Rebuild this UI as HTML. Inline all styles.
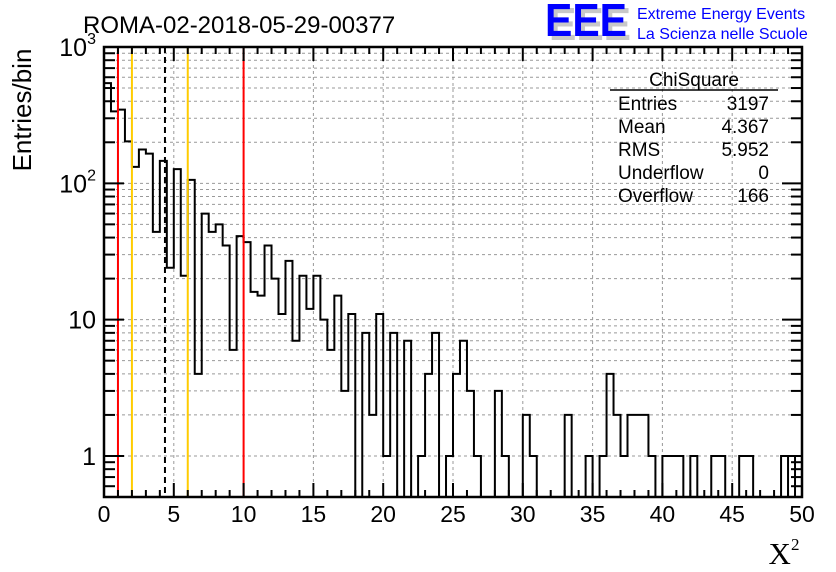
<!DOCTYPE html>
<html><head><meta charset="utf-8"><style>
html,body{margin:0;padding:0;background:#fff;}
svg{display:block;font-family:"Liberation Sans",sans-serif;}
</style></head><body>
<svg id="chart" width="836" height="572" viewBox="0 0 836 572" xmlns="http://www.w3.org/2000/svg">
<text x="83" y="33" font-size="24">ROMA-02-2018-05-29-00377</text>
<g>
<text x="549" y="40" font-size="46" font-weight="bold" fill="#c8c8c8" textLength="82" lengthAdjust="spacingAndGlyphs">EEE</text>
<text x="545" y="36" font-size="46" font-weight="bold" fill="#0000ff" textLength="82" lengthAdjust="spacingAndGlyphs">EEE</text>
<text x="637" y="19" font-size="16" fill="#0000ff">Extreme Energy Events</text>
<text x="637" y="39" font-size="16" fill="#0000ff">La Scienza nelle Scuole</text>
</g>
<text transform="translate(31,110) rotate(-90)" text-anchor="middle" font-size="26">Entries/bin</text>
<text x="784" y="564" text-anchor="middle" font-size="31" font-family="Liberation Serif,serif">X<tspan font-size="17" dy="-14">2</tspan></text>
<g id="grid"></g><g id="marks"></g><g id="axes"></g>
<g font-size="19">
<text x="694" y="86" text-anchor="middle">ChiSquare</text>
<line x1="610" y1="90" x2="778" y2="90" stroke="#000" stroke-width="1.5"/>
<text x="618" y="110">Entries</text><text x="769" y="110" text-anchor="end">3197</text>
<text x="618" y="133">Mean</text><text x="769" y="133" text-anchor="end">4.367</text>
<text x="618" y="156">RMS</text><text x="769" y="156" text-anchor="end">5.952</text>
<text x="618" y="179">Underflow</text><text x="769" y="179" text-anchor="end">0</text>
<text x="618" y="202">Overflow</text><text x="769" y="202" text-anchor="end">166</text>
</g>
</svg>
<script>
const binCounts = [543,337,347,203,132,177,165,44,146,24,127,21,106,4,60,44,50,35,6,41,37,16,15,35,20,11,27,7,21,12,21,10,6,15,3,11,0,8,2,11,1,8,0,7,0,1,4,8,0,1,4,7,3,1,0,0,3,1,0,0,2,1,0,0,0,0,2,0,0,1,0,1,4,2,1,2,2,2,1,0,1,1,1,0,1,0,0,1,1,0,0,1,1,0,0,0,0,1,1,1];
const xTicks = [0,5,10,15,20,25,30,35,40,45,50];
const yDecades = [1,10,100,1000];
const yLabels = ["1","10","10²","10³"];
const redLines = [1,10];
const yellowLines = [2,6];
const meanLine = [4.367];
const xMin=0,xMax=50,binW=0.5,yMin=0.5,yMax=1000;
const L=104,R=802,T=47,B=497;
const sx=v=>L+(v-xMin)/(xMax-xMin)*(R-L);
const sy=v=>B-(Math.log10(v)-Math.log10(yMin))/(Math.log10(yMax)-Math.log10(yMin))*(B-T);
const NS="http://www.w3.org/2000/svg";
function mk(tag,attrs,parent){const e=document.createElementNS(NS,tag);for(const k in attrs)e.setAttribute(k,attrs[k]);parent.appendChild(e);return e;}
const grid=document.getElementById('grid'),marks=document.getElementById('marks'),axes=document.getElementById('axes');
xTicks.forEach(t=>{if(t>xMin&&t<xMax){const l=mk('line',{x1:sx(t),x2:sx(t),y1:T,y2:B,stroke:'#999','stroke-dasharray':'3,3','stroke-width':1},grid);

}});
yDecades.forEach(d=>{for(let m=1;m<10;m++){const v=d*m;if(v>yMax||v<yMin)continue;const y=sy(v);
const l=mk('line',{x1:L,x2:R,y1:y,y2:y,stroke:'#999','stroke-dasharray':'3,3','stroke-width':1},grid);


const tl=(m===1)?20:11;
mk('line',{x1:L,x2:L+tl,y1:y,y2:y,stroke:'#000','stroke-width':2},axes);
mk('line',{x1:R,x2:R-tl,y1:y,y2:y,stroke:'#000','stroke-width':2},axes);}});
for(let v=5;v<10;v++){const y=sy(v/10);if(y<B){mk('line',{x1:L,x2:L+11,y1:y,y2:y,stroke:'#000','stroke-width':2},axes);mk('line',{x1:R,x2:R-11,y1:y,y2:y,stroke:'#000','stroke-width':2},axes);}}
let d='',prev=null;
binCounts.forEach((c,i)=>{const x0=sx(i*binW),x1=sx((i+1)*binW);const y=c>0?sy(c):B;
if(prev===null)d+=`M${x0},${B}L${x0},${y}`;else d+=`L${x0},${y}`;d+=`L${x1},${y}`;prev=y;});
d+=`L${sx(xMax)},${B}`;
const h=mk('path',{d:d,fill:'none',stroke:'#000','stroke-width':2},marks);


[98,99].forEach(i=>{const c=binCounts[i];if(c>0){const l=mk('line',{x1:sx(i*binW),x2:sx(i*binW),y1:sy(c),y2:B,stroke:'#000','stroke-width':2},marks);

}});
redLines.forEach(v=>{const l=mk('line',{x1:sx(v),x2:sx(v),y1:T,y2:B,stroke:'#ff0000','stroke-width':2},marks);

});
yellowLines.forEach(v=>{const l=mk('line',{x1:sx(v),x2:sx(v),y1:T,y2:B,stroke:'#ffcc00','stroke-width':2},marks);

});
meanLine.forEach(v=>{const l=mk('line',{x1:sx(v),x2:sx(v),y1:T,y2:B,stroke:'#000','stroke-width':2,'stroke-dasharray':'6,4'},marks);

});
const f=mk('rect',{x:L,y:T,width:R-L,height:B-T,fill:'none',stroke:'#000','stroke-width':2.5},axes);


for(let v=xMin;v<=xMax;v++){const x=sx(v);const tl=(v%5===0)?14:7;
mk('line',{x1:x,x2:x,y1:B,y2:B-tl,stroke:'#000','stroke-width':2},axes);
mk('line',{x1:x,x2:x,y1:T,y2:T+tl,stroke:'#000','stroke-width':2},axes);}
xTicks.forEach(t=>{const e=mk('text',{x:sx(t),y:522,'text-anchor':'middle','font-size':23},axes);e.textContent=t;

});
yDecades.forEach((v,i)=>{const lab=yLabels[i];const e=mk('text',{x:96,y:sy(v)+9,'text-anchor':'end','font-size':25},axes);
if(lab.length>2){e.textContent='10';const s=mk('tspan',{'font-size':16,dy:-12},e);s.textContent=lab.slice(2)==='²'?'2':'3';}else e.textContent=lab;

});
</script>
</body></html>
